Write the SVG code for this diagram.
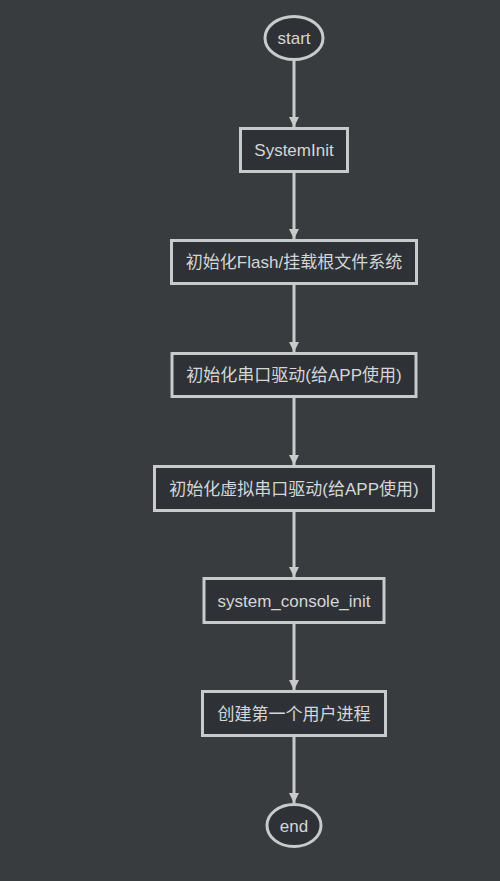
<svg xmlns="http://www.w3.org/2000/svg" width="500" height="881" viewBox="0 0 500 881">
<style>
.n{fill:#2e3236;stroke:#c8cacb;stroke-width:3}
.t{fill:#d4d6d8;font-family:"Liberation Sans","Noto Sans CJK SC",sans-serif;font-size:17px;text-anchor:middle}
.e{stroke:#c8cacb;stroke-width:3;fill:none}
</style>
<defs>
<marker id="ah" viewBox="0 0 10 10" refX="10" refY="5" markerWidth="10" markerHeight="10" markerUnits="userSpaceOnUse" orient="auto">
<path d="M0,0 L10,5 L0,10 z" fill="#c8cacb"/>
</marker>
</defs>
<rect width="500" height="881" fill="#383c3e"/>
<g id="connectors">
<line class="e" x1="294" y1="60" x2="294" y2="127" marker-end="url(#ah)"/>
<line class="e" x1="294" y1="173" x2="294" y2="239" marker-end="url(#ah)"/>
<line class="e" x1="294" y1="285" x2="294" y2="352" marker-end="url(#ah)"/>
<line class="e" x1="294" y1="398" x2="294" y2="465" marker-end="url(#ah)"/>
<line class="e" x1="294" y1="512" x2="294" y2="577" marker-end="url(#ah)"/>
<line class="e" x1="294" y1="624" x2="294" y2="690" marker-end="url(#ah)"/>
<line class="e" x1="294" y1="737" x2="294" y2="803" marker-end="url(#ah)"/>
</g>
<g id="start"><ellipse class="n" cx="294" cy="38" rx="29" ry="21.5"/><text class="t" x="294" y="44">start</text></g>
<g id="systeminit"><rect class="n" x="240.5" y="128.5" width="107" height="43"/><text class="t" x="294" y="156">SystemInit</text></g>
<g id="flash"><rect class="n" x="171.5" y="240.5" width="245" height="43"/><text class="t" x="294" y="268">初始化Flash/挂载根文件系统</text></g>
<g id="uart"><rect class="n" x="172" y="353.5" width="244" height="43"/><text class="t" x="294" y="381">初始化串口驱动(给APP使用)</text></g>
<g id="vuart"><rect class="n" x="154.5" y="466.5" width="279" height="44"/><text class="t" x="294" y="494.5">初始化虚拟串口驱动(给APP使用)</text></g>
<g id="console"><rect class="n" x="204" y="578.5" width="180" height="44"/><text class="t" x="294" y="606.5">system_console_init</text></g>
<g id="proc"><rect class="n" x="202.5" y="691.5" width="183" height="44"/><text class="t" x="294" y="719.5">创建第一个用户进程</text></g>
<g id="end"><ellipse class="n" cx="294" cy="825.5" rx="27" ry="21"/><text class="t" x="294" y="831.5">end</text></g>
</svg>
